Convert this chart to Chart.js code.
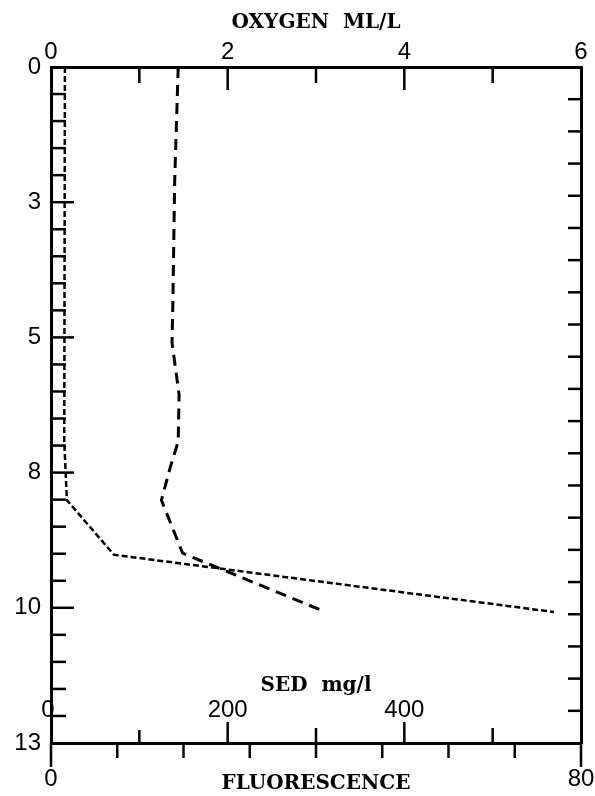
<!DOCTYPE html>
<html>
<head>
<meta charset="utf-8">
<script src="https://cdn.jsdelivr.net/npm/chart.js@4"></script>
<style>
  body { margin: 0; background: #fff; }
  canvas { display: block; }
</style>
</head>
<body>
<canvas id="profile" width="595" height="796"></canvas>
<script>
// === Depth profile: oxygen / fluorescence / SED ===

// Oxygen (long dashes)
const oxyDepth = [0, 2.2, 4.5, 5.3, 6.3, 7.2, 7.7, 8.33, 9.35, 10.44];
const oxygen = [1.44, 1.40, 1.38, 1.37, 1.45, 1.44, 1.35, 1.25, 1.49, 3.05];

// Fluorescence (short dashes)
const fluorDepth = [0, 7.2, 8.33, 9.38, 10.48];
const fluorescence = [2.1, 2.0, 2.4, 9.5, 75.9];

// Axis ticks and labels
const depthMajor = [0, 2.6, 5.2, 7.8, 10.4, 13];
const depthLabels = ['0', '3', '5', '8', '10', '13'];
const depthMinorStep = 0.52;
const oxyTicks = [0, 1, 2, 3, 4, 5, 6];
const oxyLabels = ['0', '', '2', '', '4', '', '6'];
const fluorTicks = [0, 10, 20, 30, 40, 50, 60, 70, 80];
const fluorLabels = ['0', '', '', '', '', '', '', '', '80'];
const sedTicks = [0, 100, 200, 300, 400, 500, 600];
const sedLabels = ['0', '', '200', '', '400', '', ''];
const rightTicks = [1, 2, 3, 4, 5, 6, 7, 8, 9, 10, 11, 12, 13, 14, 15, 16, 17, 18, 19, 20];

const INK = '#000';
const LABEL_FONT = { family: '"Liberation Sans", Arial, sans-serif', size: 24 };
const TITLE_FONT = { family: '"DejaVu Serif", serif', size: 20, weight: 'bold' };

Chart.defaults.color = INK;

const depthTickValues = [];
for (let i = 0; i <= 25; i++) depthTickValues.push(+(i * depthMinorStep).toFixed(2));

const isMajorDepth = v => depthMajor.some(m => Math.abs(m - v) < 1e-6);

// tick marks drawn inward / outward like the original plot
const tickMarks = {
    id: 'tickMarks',
    afterDraw(chart) {
        const { ctx, chartArea: a, scales } = chart;
        const yS = scales.y, oS = scales.x, fS = scales.xF, sS = scales.sed, rS = scales.yR;
        ctx.save();
        ctx.strokeStyle = INK;
        ctx.lineWidth = 2.5;
        ctx.lineCap = 'butt';
        const line = (x1, y1, x2, y2) => {
            ctx.beginPath(); ctx.moveTo(x1, y1); ctx.lineTo(x2, y2); ctx.stroke();
        };

        depthTickValues.forEach(v => {
            if (v <= 0 || v >= 13) return;
            const y = yS.getPixelForValue(v);
            line(a.left, y, a.left + (isMajorDepth(v) ? 23 : 15), y);
        });

        rightTicks.forEach(v => {
            const y = rS.getPixelForValue(v);
            line(a.right, y, a.right - 13, y);
        });

        oxyTicks.forEach((v, i) => {
            if (v === 0 || v === 6) return;
            const x = oS.getPixelForValue(v);
            line(x, a.top, x, a.top + (oxyLabels[i] ? 23 : 16));
        });

        fluorTicks.forEach(v => {
            const x = fS.getPixelForValue(v);
            const len = (v === 0 || v === 80) ? 24 : 15;
            line(x, a.bottom, x, a.bottom + len);
        });

        sedTicks.forEach((v, i) => {
            if (v === 0 || v === 600) return;
            const x = sS.getPixelForValue(v);
            const len = sedLabels[i] ? 21 : (v === 100 ? 13 : 15);
            line(x, a.bottom, x, a.bottom - len);
        });

        // SED axis labels sit inside the frame
        ctx.fillStyle = INK;
        ctx.textAlign = 'center';
        ctx.textBaseline = 'middle';
        ctx.font = `${LABEL_FONT.size}px ${LABEL_FONT.family}`;
        sedTicks.forEach((v, i) => {
            if (!sedLabels[i]) return;
            const x = v === 0 ? sS.getPixelForValue(v) - 3 : sS.getPixelForValue(v);
            ctx.fillText(sedLabels[i], x, a.bottom - 33);
        });
        ctx.font = `bold ${TITLE_FONT.size}px ${TITLE_FONT.family}`;
        ctx.fillText('SED  mg/l', (a.left + a.right) / 2, a.bottom - 57);
        ctx.restore();
    }
};

const axisBorder = { display: true, color: INK, width: 3 };
const noGrid = { display: false, drawTicks: false };
const noSidePad = s => { s.paddingLeft = 0; s.paddingRight = 0; };

new Chart(document.getElementById('profile'), {
    type: 'scatter',
    data: {
        datasets: [
            {
                label: 'Oxygen',
                data: oxyDepth.map((d, i) => ({ x: oxygen[i], y: d })),
                xAxisID: 'x',
                yAxisID: 'y',
                showLine: true,
                borderColor: INK,
                borderWidth: 3,
                borderDash: [11, 7],
                pointRadius: 0,
                tension: 0
            },
            {
                label: 'Fluorescence',
                data: fluorDepth.map((d, i) => ({ x: fluorescence[i], y: d })),
                xAxisID: 'xF',
                yAxisID: 'y',
                showLine: true,
                borderColor: INK,
                borderWidth: 2.5,
                borderDash: [6, 3],
                pointRadius: 0,
                tension: 0
            }
        ]
    },
    options: {
        responsive: false,
        animation: false,
        devicePixelRatio: 1,
        layout: { padding: 0 },
        plugins: { legend: { display: false }, tooltip: { enabled: false } },
        scales: {
            y: {
                type: 'linear',
                position: 'left',
                reverse: true,
                min: 0,
                max: 13,
                grid: noGrid,
                border: axisBorder,
                afterBuildTicks: s => { s.ticks = depthTickValues.map(v => ({ value: v })); },
                afterFit: s => { s.width = 51; s.paddingTop = 0; s.paddingBottom = 0; },
                ticks: {
                    autoSkip: false,
                    padding: 10,
                    font: LABEL_FONT,
                    callback: v => {
                        const k = depthMajor.findIndex(m => Math.abs(m - v) < 1e-6);
                        return k >= 0 ? depthLabels[k] : '';
                    }
                }
            },
            yR: {
                type: 'linear',
                position: 'right',
                reverse: true,
                min: 0,
                max: 21,
                grid: noGrid,
                border: axisBorder,
                ticks: { display: false },
                afterFit: s => { s.width = 14; s.paddingTop = 0; s.paddingBottom = 0; }
            },
            x: {
                type: 'linear',
                position: 'top',
                min: 0,
                max: 6,
                grid: noGrid,
                border: axisBorder,
                afterBuildTicks: s => { s.ticks = oxyTicks.map(v => ({ value: v })); },
                afterFit: s => { s.height = 67; noSidePad(s); },
                ticks: {
                    autoSkip: false,
                    maxRotation: 0,
                    padding: 0,
                    font: LABEL_FONT,
                    callback: (v, i) => oxyLabels[i]
                },
                title: {
                    display: true,
                    text: 'OXYGEN  ML/L',
                    font: TITLE_FONT,
                    padding: { top: 11, bottom: 0 }
                }
            },
            xF: {
                type: 'linear',
                position: 'bottom',
                min: 0,
                max: 80,
                grid: noGrid,
                border: axisBorder,
                afterBuildTicks: s => { s.ticks = fluorTicks.map(v => ({ value: v })); },
                afterFit: s => { s.height = 53; noSidePad(s); },
                ticks: {
                    autoSkip: false,
                    maxRotation: 0,
                    padding: 22,
                    font: LABEL_FONT,
                    callback: (v, i) => fluorLabels[i]
                },
                title: {
                    display: true,
                    text: 'FLUORESCENCE',
                    font: TITLE_FONT,
                    padding: { top: 0, bottom: 0 }
                }
            },
            sed: {
                type: 'linear',
                position: 'bottom',
                display: false,
                min: 0,
                max: 600,
                afterFit: noSidePad
            }
        }
    },
    plugins: [tickMarks]
});
</script>
</body>
</html>
